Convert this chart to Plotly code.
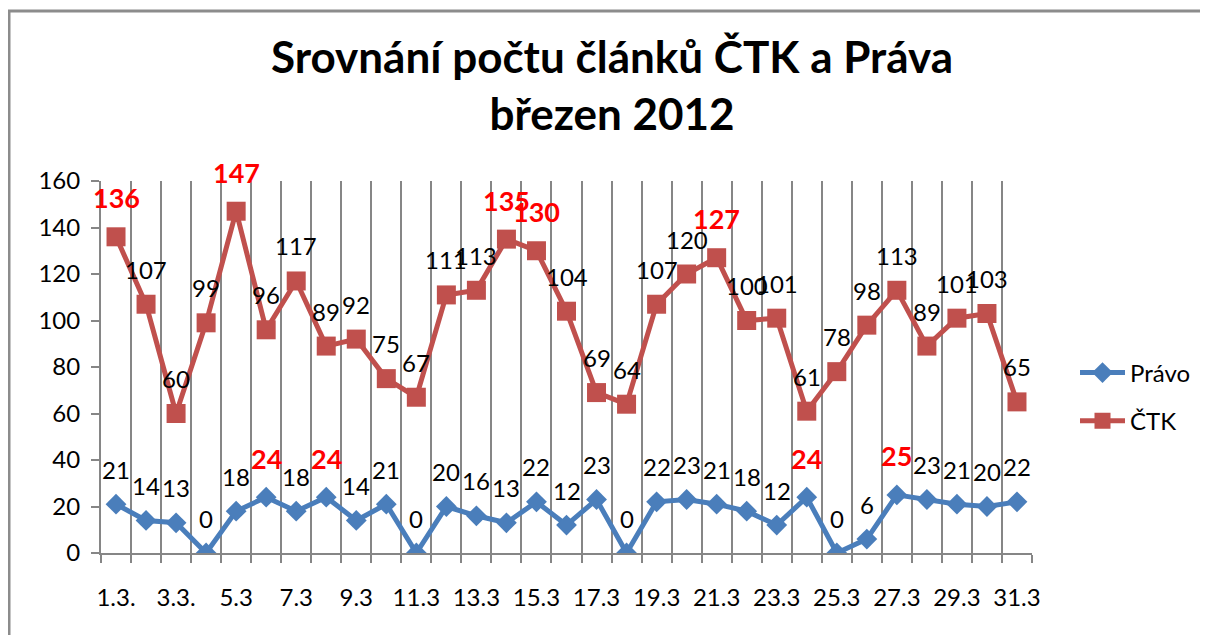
import plotly.graph_objects as go

# ---- data ----
days = list(range(1, 32))
day_labels = ["1.3.", "2.3.", "3.3.", "4.3."] + [f"{d}.3" for d in range(5, 32)]
pravo = [21, 14, 13, 0, 18, 24, 18, 24, 14, 21, 0, 20, 16, 13, 22, 12, 23, 0,
         22, 23, 21, 18, 12, 24, 0, 6, 25, 23, 21, 20, 22]
ctk = [136, 107, 60, 99, 147, 96, 117, 89, 92, 75, 67, 111, 113, 135, 130, 104,
       69, 64, 107, 120, 127, 100, 101, 61, 78, 98, 113, 89, 101, 103, 65]
pravo_highlight_days = [6, 8, 24, 27]
ctk_highlight_days = [1, 5, 14, 15, 21]
tick_days = days[::2]
tick_text = [day_labels[d - 1] for d in tick_days]

FONT = "Lato"
BLUE = "#4A7EBB"
RED = "#C0504D"
GRID = "#868686"
OFF = 8  # page body margin

fig = go.Figure()
fig.add_trace(go.Scatter(
    x=days, y=pravo, name="Právo", mode="lines+markers", legendgroup="p",
    line=dict(color=BLUE, width=5),
    marker=dict(symbol="diamond", size=16, color=BLUE),
))
fig.add_trace(go.Scatter(
    x=days, y=ctk, name="ČTK", mode="lines+markers", legendgroup="c",
    line=dict(color=RED, width=5),
    marker=dict(symbol="square", size=19, color=RED),
))

annotations = []
for series, hl in ((pravo, pravo_highlight_days), (ctk, ctk_highlight_days)):
    for d, v in zip(days, series):
        if d in hl:
            annotations.append(dict(
                x=d, y=v, xref="x", yref="y", text=f"<b>{v}</b>", showarrow=False,
                yanchor="middle", yshift=39,
                font=dict(family=FONT, size=27, color="#FF0000")))
        else:
            annotations.append(dict(
                x=d, y=v, xref="x", yref="y", text=str(v), showarrow=False,
                yanchor="middle", yshift=35,
                font=dict(family=FONT, size=24, color="black")))

W, H = 1208, 635
L = 101 - OFF
T = 181 - OFF
B = H - (553 - OFF)
R = W - (1032 - OFF)
pw, ph = W - L - R, H - T - B


def px_x(x):
    return (x - OFF - L) / pw


def px_y(y):
    return (H - B - (y - OFF)) / ph


fig.update_layout(
    width=W, height=H,
    margin=dict(l=L, r=R, t=T, b=B),
    paper_bgcolor="white", plot_bgcolor="white",
    font=dict(family=FONT, size=24, color="black"),
    title=dict(
        text="<b>Srovnání počtu článků ČTK a Práva<br>březen 2012</b>",
        x=(612 - OFF) / W, xref="container", xanchor="center",
        y=1 - (73 - OFF) / H, yref="container", yanchor="top",
        font=dict(family=FONT, size=44, color="black"),
    ),
    showlegend=True,
    legend=dict(
        x=px_x(1075), xanchor="left",
        y=px_y(397), yanchor="middle",
        font=dict(family=FONT, size=24, color="black"),
        tracegroupgap=14, bgcolor="rgba(0,0,0,0)", itemwidth=45,
    ),
    annotations=annotations,
    shapes=[
        dict(type="line", xref="paper", yref="paper",
             x0=px_x(8), x1=px_x(1300), y0=px_y(11), y1=px_y(11),
             line=dict(color="#8C8C8C", width=3), layer="below"),
        dict(type="line", xref="paper", yref="paper",
             x0=px_x(9), x1=px_x(9), y0=px_y(10), y1=px_y(700),
             line=dict(color="#8C8C8C", width=3), layer="below"),
    ],
)

fig.update_xaxes(
    range=[0.5, 31.5], tickmode="array", tickvals=tick_days, ticktext=tick_text,
    ticks="", showgrid=False, zeroline=False,
    showline=True, linecolor=GRID, linewidth=2,
    tickfont=dict(family=FONT, size=24, color="black"),
    ticklabelstandoff=22,
    minor=dict(tickmode="linear", tick0=0.5, dtick=1, showgrid=True,
               gridcolor=GRID, gridwidth=2, ticks="outside", ticklen=8,
               tickcolor=GRID, tickwidth=2),
)
fig.update_yaxes(
    range=[0, 160], dtick=20, showgrid=False, zeroline=False,
    showline=True, linecolor=GRID, linewidth=2,
    ticks="outside", ticklen=8, tickcolor=GRID, tickwidth=2,
    tickfont=dict(family=FONT, size=24, color="black"),
    ticklabelstandoff=6,
)

fig.write_html("out.html", config={"displayModeBar": False})
